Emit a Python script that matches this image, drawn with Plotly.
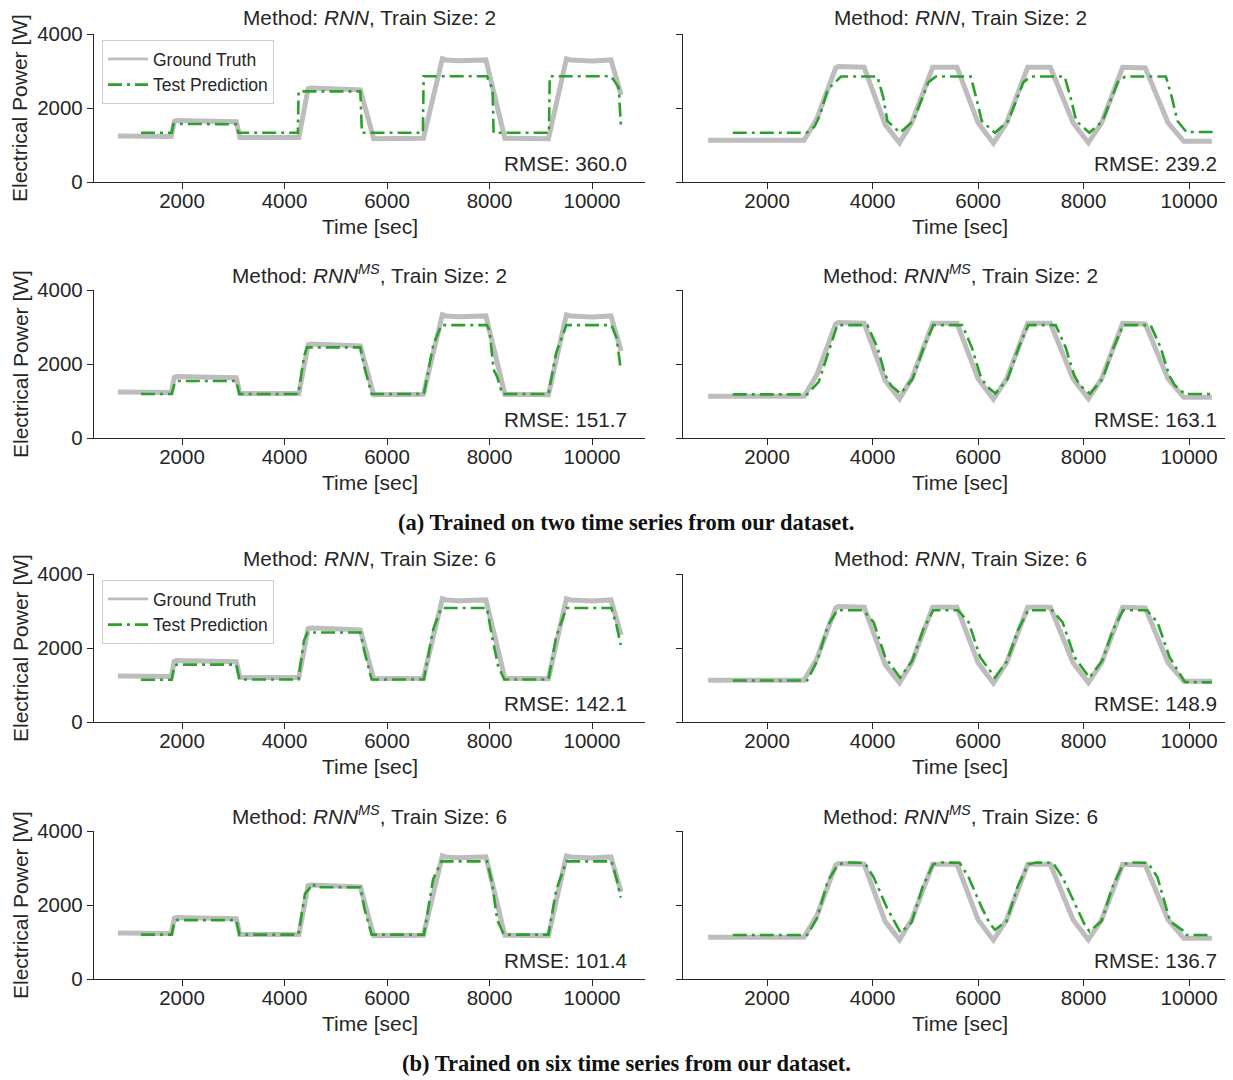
import plotly.graph_objects as go

# The page body has an 8px margin, so the figure is drawn 8px smaller and
# all reference pixel positions are shifted by that offset.
OFF = 8
W, H = 1233 - OFF, 1080 - OFF

# ---------------- data ----------------
# Left column: test series A (ground truth)
gt_a_t = [750, 1790, 1850, 1890, 3060, 3130, 4280, 4460, 4520, 5480, 5740, 6710, 7080, 7150, 7400, 7930, 8300, 9150, 9500, 9580, 10000, 10370, 10568]
gt_a_p = [1240, 1230, 1640, 1660, 1630, 1200, 1200, 2520, 2540, 2490, 1170, 1180, 3330, 3300, 3280, 3300, 1180, 1170, 3330, 3300, 3270, 3300, 2350]

# Right column: test series B (ground truth)
gt_b_t = [883, 2700, 2940, 3300, 3350, 3840, 4240, 4510, 4740, 5140, 5600, 6000, 6290, 6540, 6940, 7370, 7800, 8090, 8340, 8740, 9170, 9600, 9900, 10432]
gt_b_p = [1130, 1130, 1700, 3080, 3120, 3100, 1550, 1060, 1600, 3100, 3100, 1600, 1050, 1600, 3100, 3100, 1600, 1060, 1600, 3100, 3080, 1600, 1100, 1100]

# Predictions, left column
pred_rnn2_a_t = [1200, 1800, 1830, 1880, 3060, 3100, 4260, 4275, 4300, 5480, 5510, 6700, 6715, 7950, 8000, 8060, 8080, 9160, 9175, 10370, 10450, 10520, 10568]
pred_rnn2_a_p = [1330, 1330, 1560, 1570, 1560, 1330, 1330, 2450, 2450, 2450, 1330, 1330, 2860, 2860, 2700, 2500, 1330, 1330, 2860, 2860, 2700, 2550, 1420]

pred_ms2_a_t = [1200, 1800, 1860, 1920, 3060, 3120, 4270, 4380, 4440, 5480, 5560, 5700, 6720, 6900, 7060, 7950, 8000, 8050, 8080, 8150, 8250, 9150, 9300, 9500, 10380, 10480, 10560]
pred_ms2_a_p = [1190, 1190, 1500, 1540, 1540, 1190, 1190, 2200, 2450, 2450, 1900, 1190, 1190, 2500, 3050, 3050, 2900, 2300, 1850, 1650, 1190, 1190, 2300, 3050, 3050, 2700, 1860]

pred_rnn6_a_t = [1200, 1800, 1850, 1900, 3060, 3120, 4270, 4380, 4450, 5480, 5560, 5700, 6720, 6900, 7060, 7950, 8050, 8170, 8290, 9150, 9300, 9500, 10380, 10480, 10560]
pred_rnn6_a_p = [1140, 1140, 1520, 1550, 1550, 1150, 1150, 2200, 2420, 2420, 1900, 1150, 1150, 2500, 3080, 3080, 2300, 1500, 1150, 1150, 2300, 3080, 3080, 2600, 2080]

pred_ms6_a_t = [1200, 1800, 1850, 1900, 3060, 3120, 4270, 4400, 4520, 4560, 4600, 5480, 5560, 5700, 6720, 6900, 7060, 7950, 8050, 8150, 8280, 9150, 9300, 9500, 10380, 10480, 10560]
pred_ms6_a_p = [1200, 1200, 1550, 1590, 1590, 1200, 1200, 2300, 2500, 2580, 2480, 2480, 1900, 1200, 1200, 2700, 3180, 3180, 2600, 1600, 1200, 1200, 2400, 3180, 3180, 2700, 2200]

# Predictions, right column
pred_rnn2_b_t = [1350, 2750, 2900, 3000, 3150, 3400, 4090, 4200, 4280, 4520, 4770, 5060, 5200, 5860, 5960, 6070, 6320, 6570, 6860, 7000, 7640, 7750, 7860, 8110, 8360, 8650, 8790, 9560, 9670, 9780, 9950, 10500]
pred_rnn2_b_p = [1330, 1330, 1500, 1800, 2500, 2850, 2850, 2300, 1650, 1330, 1650, 2700, 2850, 2850, 2300, 1650, 1330, 1650, 2700, 2850, 2850, 2300, 1650, 1330, 1650, 2700, 2850, 2850, 2300, 1650, 1350, 1350]

pred_ms2_b_t = [1350, 2760, 2980, 3190, 3330, 3900, 4090, 4240, 4350, 4530, 4760, 4970, 5150, 5700, 5880, 6040, 6150, 6330, 6560, 6770, 6950, 7470, 7660, 7820, 7930, 8120, 8360, 8570, 8750, 9270, 9460, 9620, 9730, 9920, 10430]
pred_ms2_b_p = [1180, 1180, 1520, 2420, 3050, 3050, 2450, 1700, 1420, 1200, 1600, 2450, 3050, 3050, 2450, 1700, 1420, 1200, 1600, 2450, 3050, 3050, 2450, 1700, 1420, 1200, 1600, 2450, 3050, 3050, 2450, 1700, 1420, 1190, 1190]

pred_rnn6_b_t = [1350, 2760, 2950, 3150, 3330, 3820, 4020, 4240, 4520, 4750, 4960, 5150, 5620, 5820, 6040, 6320, 6550, 6760, 6950, 7400, 7600, 7830, 8110, 8350, 8560, 8750, 9200, 9400, 9630, 9920, 10430]
pred_rnn6_b_p = [1120, 1120, 1650, 2600, 3020, 3020, 2700, 1750, 1200, 1650, 2500, 3020, 3020, 2700, 1750, 1200, 1650, 2500, 3020, 3020, 2700, 1750, 1200, 1650, 2500, 3020, 3020, 2700, 1750, 1080, 1070]

pred_ms6_b_t = [1350, 2760, 2950, 3150, 3350, 3500, 3850, 4020, 4270, 4420, 4530, 4740, 4950, 5150, 5300, 5650, 5820, 6070, 6220, 6320, 6540, 6750, 6950, 7100, 7420, 7600, 7860, 8010, 8110, 8340, 8550, 8750, 8900, 9220, 9400, 9640, 9890, 9920, 10430]
pred_ms6_b_p = [1190, 1190, 1650, 2650, 3100, 3150, 3140, 2750, 1930, 1520, 1250, 1530, 2500, 3100, 3150, 3140, 2750, 1930, 1500, 1330, 1560, 2500, 3100, 3150, 3140, 2750, 1930, 1500, 1290, 1560, 2500, 3100, 3150, 3140, 2750, 1560, 1300, 1190, 1190]

rmse_values = ["360.0", "239.2", "151.7", "163.1", "142.1", "148.9", "101.4", "136.7"]
methods = ["RNN", "RNN", "RNN<sup><i>MS</i></sup>", "RNN<sup><i>MS</i></sup>",
           "RNN", "RNN", "RNN<sup><i>MS</i></sup>", "RNN<sup><i>MS</i></sup>"]
train_sizes = [2, 2, 2, 2, 6, 6, 6, 6]
x_ticks = [2000, 4000, 6000, 8000, 10000]
y_ticks = [0, 2000, 4000]
captions = ["(a) Trained on two time series from our dataset.",
            "(b) Trained on six time series from our dataset."]

gt_series = [(gt_a_t, gt_a_p), (gt_b_t, gt_b_p)] * 4
pred_series = [(pred_rnn2_a_t, pred_rnn2_a_p), (pred_rnn2_b_t, pred_rnn2_b_p),
               (pred_ms2_a_t, pred_ms2_a_p), (pred_ms2_b_t, pred_ms2_b_p),
               (pred_rnn6_a_t, pred_rnn6_a_p), (pred_rnn6_b_t, pred_rnn6_b_p),
               (pred_ms6_a_t, pred_ms6_a_p), (pred_ms6_b_t, pred_ms6_b_p)]

# ---------------- layout geometry (reference-image pixels) ----------------
def px(x):
    return (x - OFF) / W

def py(y):
    return 1 - (y - OFF) / H

TEXT = "#262626"
GRAY = "#bdbdbd"
GREEN = "#2ca02c"
DASH = "14px,5px,3px,5px"
FONT = "Liberation Sans, Arial, sans-serif"
SERIF = "Liberation Serif, Times New Roman, serif"

col_px = [(94, 645), (683, 1233)]
col_range = [[283, 11034], [406, 10832]]
col_center = [369.5, 960]
col_rmse_right = [629, 1219]
row_px = [(34, 182), (290, 438), (574, 722), (831, 979)]

fig = go.Figure()
annotations = []
layout_axes = {}

for i in range(8):
    r, c = divmod(i, 2)
    k = i + 1
    xa = "x" if k == 1 else f"x{k}"
    ya = "y" if k == 1 else f"y{k}"
    top, bot = row_px[r]
    left, right = col_px[c]

    gt_t, gt_p = gt_series[i]
    pr_t, pr_p = pred_series[i]
    fig.add_trace(go.Scatter(x=gt_t, y=gt_p, mode="lines", name="Ground Truth",
                             line=dict(color=GRAY, width=5),
                             xaxis=xa, yaxis=ya, showlegend=False))
    fig.add_trace(go.Scatter(x=pr_t, y=pr_p, mode="lines", name="Test Prediction",
                             line=dict(color=GREEN, width=2.6, dash=DASH),
                             xaxis=xa, yaxis=ya, showlegend=False))

    # legend-only entries (thinner sample lines, as in the reference legend)
    if c == 0 and r in (0, 2):
        leg_name = "legend" if r == 0 else "legend2"
        fig.add_trace(go.Scatter(x=[None], y=[None], mode="lines", name="Ground Truth",
                                 line=dict(color=GRAY, width=2.6),
                                 xaxis=xa, yaxis=ya, showlegend=True, legend=leg_name))
        fig.add_trace(go.Scatter(x=[None], y=[None], mode="lines", name="Test Prediction",
                                 line=dict(color=GREEN, width=2.6, dash=DASH),
                                 xaxis=xa, yaxis=ya, showlegend=True, legend=leg_name))

    xkey = "xaxis" if k == 1 else f"xaxis{k}"
    ykey = "yaxis" if k == 1 else f"yaxis{k}"
    layout_axes[xkey] = dict(
        domain=[max(0, px(left)), min(1, px(right))], range=col_range[c], anchor=ya,
        automargin=False,
        showline=True, linecolor=TEXT, linewidth=1.3, mirror=False,
        ticks="outside", ticklen=6, tickwidth=1.3, tickcolor=TEXT,
        tickvals=x_ticks, ticktext=[str(v) for v in x_ticks],
        ticklabelstandoff=-6,
        showgrid=False, zeroline=False,
        tickfont=dict(family=FONT, size=20.5, color=TEXT),
    )
    layout_axes[ykey] = dict(
        domain=[py(bot), py(top)], range=[0, 4000], anchor=xa,
        automargin=False,
        showline=True, linecolor=TEXT, linewidth=1.3, mirror=False,
        ticks="outside", ticklen=6, tickwidth=1.3, tickcolor=TEXT,
        tickvals=y_ticks, ticktext=[str(v) for v in y_ticks],
        showticklabels=(c == 0),
        showgrid=False, zeroline=False,
        tickfont=dict(family=FONT, size=20.5, color=TEXT),
    )

    # subplot title
    annotations.append(dict(
        text=f"Method: <i>{methods[i]}</i>, Train Size: {train_sizes[i]}",
        x=px(col_center[c]), y=py(top - 16), xref="paper", yref="paper",
        xanchor="center", yanchor="middle", showarrow=False,
        font=dict(family=FONT, size=20.8, color=TEXT)))
    # x-axis title
    annotations.append(dict(
        text="Time [sec]", x=px(col_center[c]), y=py(bot + 44.5),
        xref="paper", yref="paper", xanchor="center", yanchor="middle",
        showarrow=False, font=dict(family=FONT, size=21, color=TEXT)))
    # y-axis title
    if c == 0:
        annotations.append(dict(
            text="Electrical Power [W]", x=px(20), y=py((top + bot) / 2),
            xref="paper", yref="paper", xanchor="center", yanchor="middle",
            textangle=-90, showarrow=False,
            font=dict(family=FONT, size=21, color=TEXT)))
    # RMSE
    annotations.append(dict(
        text=f"RMSE: {rmse_values[i]}", x=px(col_rmse_right[c]), y=py(bot - 18.5),
        xref="paper", yref="paper", xanchor="right", yanchor="middle",
        showarrow=False, font=dict(family=FONT, size=20.7, color=TEXT)))

# captions
annotations.append(dict(text=f"<b>{captions[0]}</b>", x=px(626), y=py(522),
                        xref="paper", yref="paper", xanchor="center", yanchor="middle",
                        showarrow=False, font=dict(family=SERIF, size=22.5, color="#111111")))
annotations.append(dict(text=f"<b>{captions[1]}</b>", x=px(627), y=py(1063),
                        xref="paper", yref="paper", xanchor="center", yanchor="middle",
                        showarrow=False, font=dict(family=SERIF, size=22.5, color="#111111")))

legend_style = dict(
    xanchor="left", yanchor="top",
    bgcolor="rgba(255,255,255,0.8)", bordercolor="#d0d0d0", borderwidth=1,
    font=dict(family=FONT, size=17.5, color=TEXT),
    tracegroupgap=0, itemwidth=40,
)

fig.update_layout(
    width=W, height=H,
    margin=dict(l=0, r=0, t=0, b=0, pad=0, autoexpand=False),
    paper_bgcolor="white", plot_bgcolor="white",
    annotations=annotations,
    legend=dict(x=px(102), y=py(40), **legend_style),
    legend2=dict(x=px(102), y=py(580), **legend_style),
    **layout_axes,
)

fig.write_html("out.html")
